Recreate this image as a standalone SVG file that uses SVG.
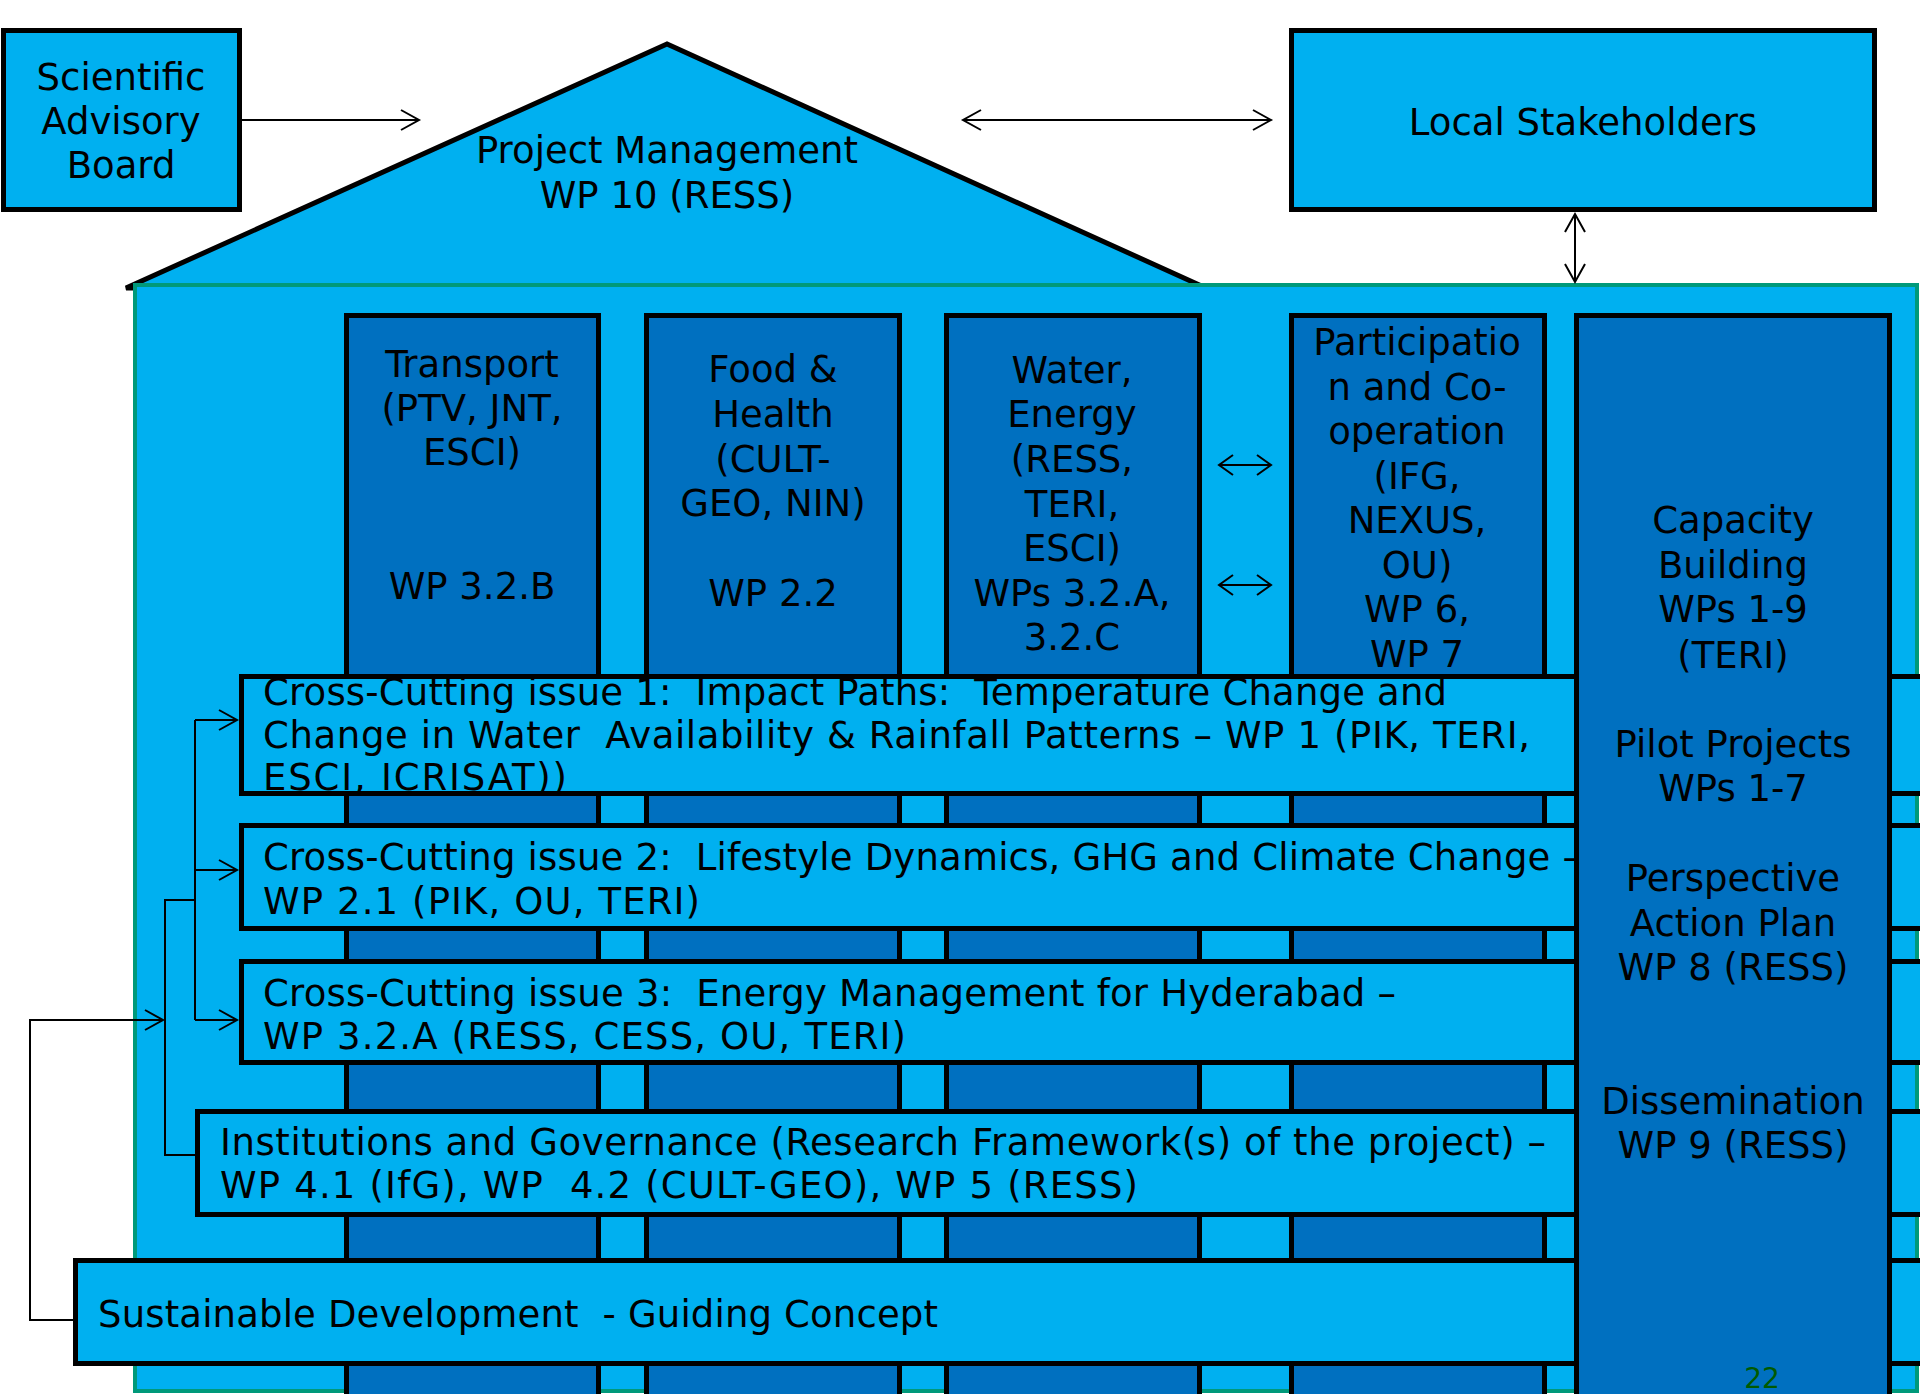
<svg xmlns="http://www.w3.org/2000/svg" width="1920" height="1394" viewBox="0 0 1920 1394" xml:space="preserve">
<style>
.lb{fill:#00B0F0;stroke:#000;stroke-width:5}
.db{fill:#0070C0;stroke:#000;stroke-width:5}
.t{font-family:"DejaVu Sans","Verdana",sans-serif;font-size:37px;fill:#000;white-space:pre}
.c{text-anchor:middle}
.ln{fill:none;stroke:#000;stroke-width:2}
</style>
<defs>
<marker id="ah" markerUnits="userSpaceOnUse" markerWidth="24" markerHeight="24" refX="19" refY="11" orient="auto-start-reverse" viewBox="0 0 24 24">
<path d="M1,1 L19,11 L1,21" fill="none" stroke="#000" stroke-width="2"/>
</marker>
<marker id="ahs" markerUnits="userSpaceOnUse" markerWidth="20" markerHeight="24" refX="15" refY="11" orient="auto-start-reverse" viewBox="0 0 20 24">
<path d="M1,1 L15,11 L1,21" fill="none" stroke="#000" stroke-width="2"/>
</marker>
</defs>
<rect width="1920" height="1394" fill="#fff"/>

<g id="scientific-advisory-board">
<rect class="lb" x="3.5" y="30.5" width="236" height="179"/>
<text class="t c" x="121" y="90">Scientific</text>
<text class="t c" x="121" y="134">Advisory</text>
<text class="t c" x="121" y="178">Board</text>
</g>

<g id="project-management">
<polygon points="667,44 126,288 1206,288" fill="#00B0F0" stroke="#000" stroke-width="5" stroke-linejoin="miter"/>
<text class="t c" x="667" y="163">Project Management</text>
<text class="t c" x="667" y="208">WP 10 (RESS)</text>
</g>

<g id="local-stakeholders">
<rect class="lb" x="1291.5" y="30.5" width="583" height="179"/>
<text class="t c" x="1583" y="135">Local Stakeholders</text>
</g>

<g id="house-body">
<rect x="135" y="285" width="1782" height="1106" fill="#00B0F0" stroke="#00997A" stroke-width="4"/>
</g>

<g id="col-transport">
<rect class="db" x="346.5" y="315.5" width="252" height="1100"/>
<text class="t c" x="472" y="377">Transport</text>
<text class="t c" x="472" y="421">(PTV, JNT,</text>
<text class="t c" x="472" y="465">ESCI)</text>
<text class="t c" x="472" y="599">WP 3.2.B</text>
</g>

<g id="col-food-health">
<rect class="db" x="646.5" y="315.5" width="253" height="1100"/>
<text class="t c" x="773" y="382">Food &amp;</text>
<text class="t c" x="773" y="427">Health</text>
<text class="t c" x="773" y="472">(CULT-</text>
<text class="t c" x="773" y="516">GEO, NIN)</text>
<text class="t c" x="773" y="606">WP 2.2</text>
</g>

<g id="col-water-energy">
<rect class="db" x="946.5" y="315.5" width="253" height="1100"/>
<text class="t c" x="1072" y="383">Water,</text>
<text class="t c" x="1072" y="427">Energy</text>
<text class="t c" x="1072" y="472">(RESS,</text>
<text class="t c" x="1072" y="517">TERI,</text>
<text class="t c" x="1072" y="561">ESCI)</text>
<text class="t c" x="1072" y="606">WPs 3.2.A,</text>
<text class="t c" x="1072" y="650">3.2.C</text>
</g>

<g id="col-participation">
<rect class="db" x="1291.5" y="315.5" width="253" height="1100"/>
<text class="t c" x="1417" y="355">Participatio</text>
<text class="t c" x="1417" y="400">n and Co-</text>
<text class="t c" x="1417" y="444">operation</text>
<text class="t c" x="1417" y="489">(IFG,</text>
<text class="t c" x="1417" y="533">NEXUS,</text>
<text class="t c" x="1417" y="578">OU)</text>
<text class="t c" x="1417" y="622">WP 6,</text>
<text class="t c" x="1417" y="667">WP 7</text>
</g>

<g id="cross-cutting-1">
<rect class="lb" x="241.5" y="676.5" width="1700" height="117"/>
<text class="t" x="263" y="705" textLength="1184" lengthAdjust="spacing">Cross-Cutting issue 1:  Impact Paths:  Temperature Change and</text>
<text class="t" x="263" y="748" textLength="1267" lengthAdjust="spacing">Change in Water  Availability &amp; Rainfall Patterns – WP 1 (PIK, TERI,</text>
<text class="t" x="263" y="790" textLength="304" lengthAdjust="spacing">ESCI, ICRISAT))</text>
</g>

<g id="cross-cutting-2">
<rect class="lb" x="241.5" y="825.5" width="1700" height="103"/>
<text class="t" x="263" y="870" textLength="1318" lengthAdjust="spacing">Cross-Cutting issue 2:  Lifestyle Dynamics, GHG and Climate Change –</text>
<text class="t" x="263" y="914" textLength="437" lengthAdjust="spacing">WP 2.1 (PIK, OU, TERI)</text>
</g>

<g id="cross-cutting-3">
<rect class="lb" x="241.5" y="961.5" width="1700" height="101"/>
<text class="t" x="263" y="1006" textLength="1133" lengthAdjust="spacing">Cross-Cutting issue 3:  Energy Management for Hyderabad –</text>
<text class="t" x="263" y="1049" textLength="643" lengthAdjust="spacing">WP 3.2.A (RESS, CESS, OU, TERI)</text>
</g>

<g id="institutions-governance">
<rect class="lb" x="197.5" y="1111.5" width="1745" height="103"/>
<text class="t" x="220" y="1155" textLength="1326" lengthAdjust="spacing">Institutions and Governance (Research Framework(s) of the project) –</text>
<text class="t" x="220" y="1198" textLength="918" lengthAdjust="spacing">WP 4.1 (IfG), WP  4.2 (CULT-GEO), WP 5 (RESS)</text>
</g>

<g id="sustainable-development">
<rect class="lb" x="75.5" y="1260.5" width="1870" height="103"/>
<text class="t" x="98" y="1327" textLength="840" lengthAdjust="spacing">Sustainable Development  - Guiding Concept</text>
</g>

<g id="col-capacity-building">
<rect class="db" x="1576.5" y="315.5" width="313" height="1100"/>
<text class="t c" x="1733" y="533">Capacity</text>
<text class="t c" x="1733" y="578">Building</text>
<text class="t c" x="1733" y="622">WPs 1-9</text>
<text class="t c" x="1733" y="668">(TERI)</text>
<text class="t c" x="1733" y="757">Pilot Projects</text>
<text class="t c" x="1733" y="801">WPs 1-7</text>
<text class="t c" x="1733" y="891">Perspective</text>
<text class="t c" x="1733" y="936">Action Plan</text>
<text class="t c" x="1733" y="980">WP 8 (RESS)</text>
<text class="t c" x="1733" y="1114">Dissemination</text>
<text class="t c" x="1733" y="1158">WP 9 (RESS)</text>
</g>

<g id="connectors">
<line class="ln" x1="242" y1="120" x2="419" y2="120" marker-end="url(#ah)"/>
<line class="ln" x1="963" y1="120" x2="1271" y2="120" marker-start="url(#ah)" marker-end="url(#ah)"/>
<line class="ln" x1="1575" y1="214" x2="1575" y2="282" marker-start="url(#ah)" marker-end="url(#ah)"/>
<line class="ln" x1="1219" y1="465" x2="1271" y2="465" marker-start="url(#ahs)" marker-end="url(#ahs)"/>
<line class="ln" x1="1219" y1="585" x2="1271" y2="585" marker-start="url(#ahs)" marker-end="url(#ahs)"/>
<polyline class="ln" points="195,720 195,1020"/>
<line class="ln" x1="195" y1="720" x2="237" y2="720" marker-end="url(#ah)"/>
<line class="ln" x1="195" y1="870" x2="237" y2="870" marker-end="url(#ah)"/>
<line class="ln" x1="195" y1="1020" x2="237" y2="1020" marker-end="url(#ah)"/>
<polyline class="ln" points="196,1155 165,1155 165,900 195,900"/>
<polyline class="ln" points="74,1320 30,1320 30,1020 163,1020" marker-end="url(#ah)"/>
</g>

<text x="1762" y="1388" font-family="DejaVu Sans, sans-serif" font-size="28" fill="#005A00" text-anchor="middle">22</text>
</svg>
